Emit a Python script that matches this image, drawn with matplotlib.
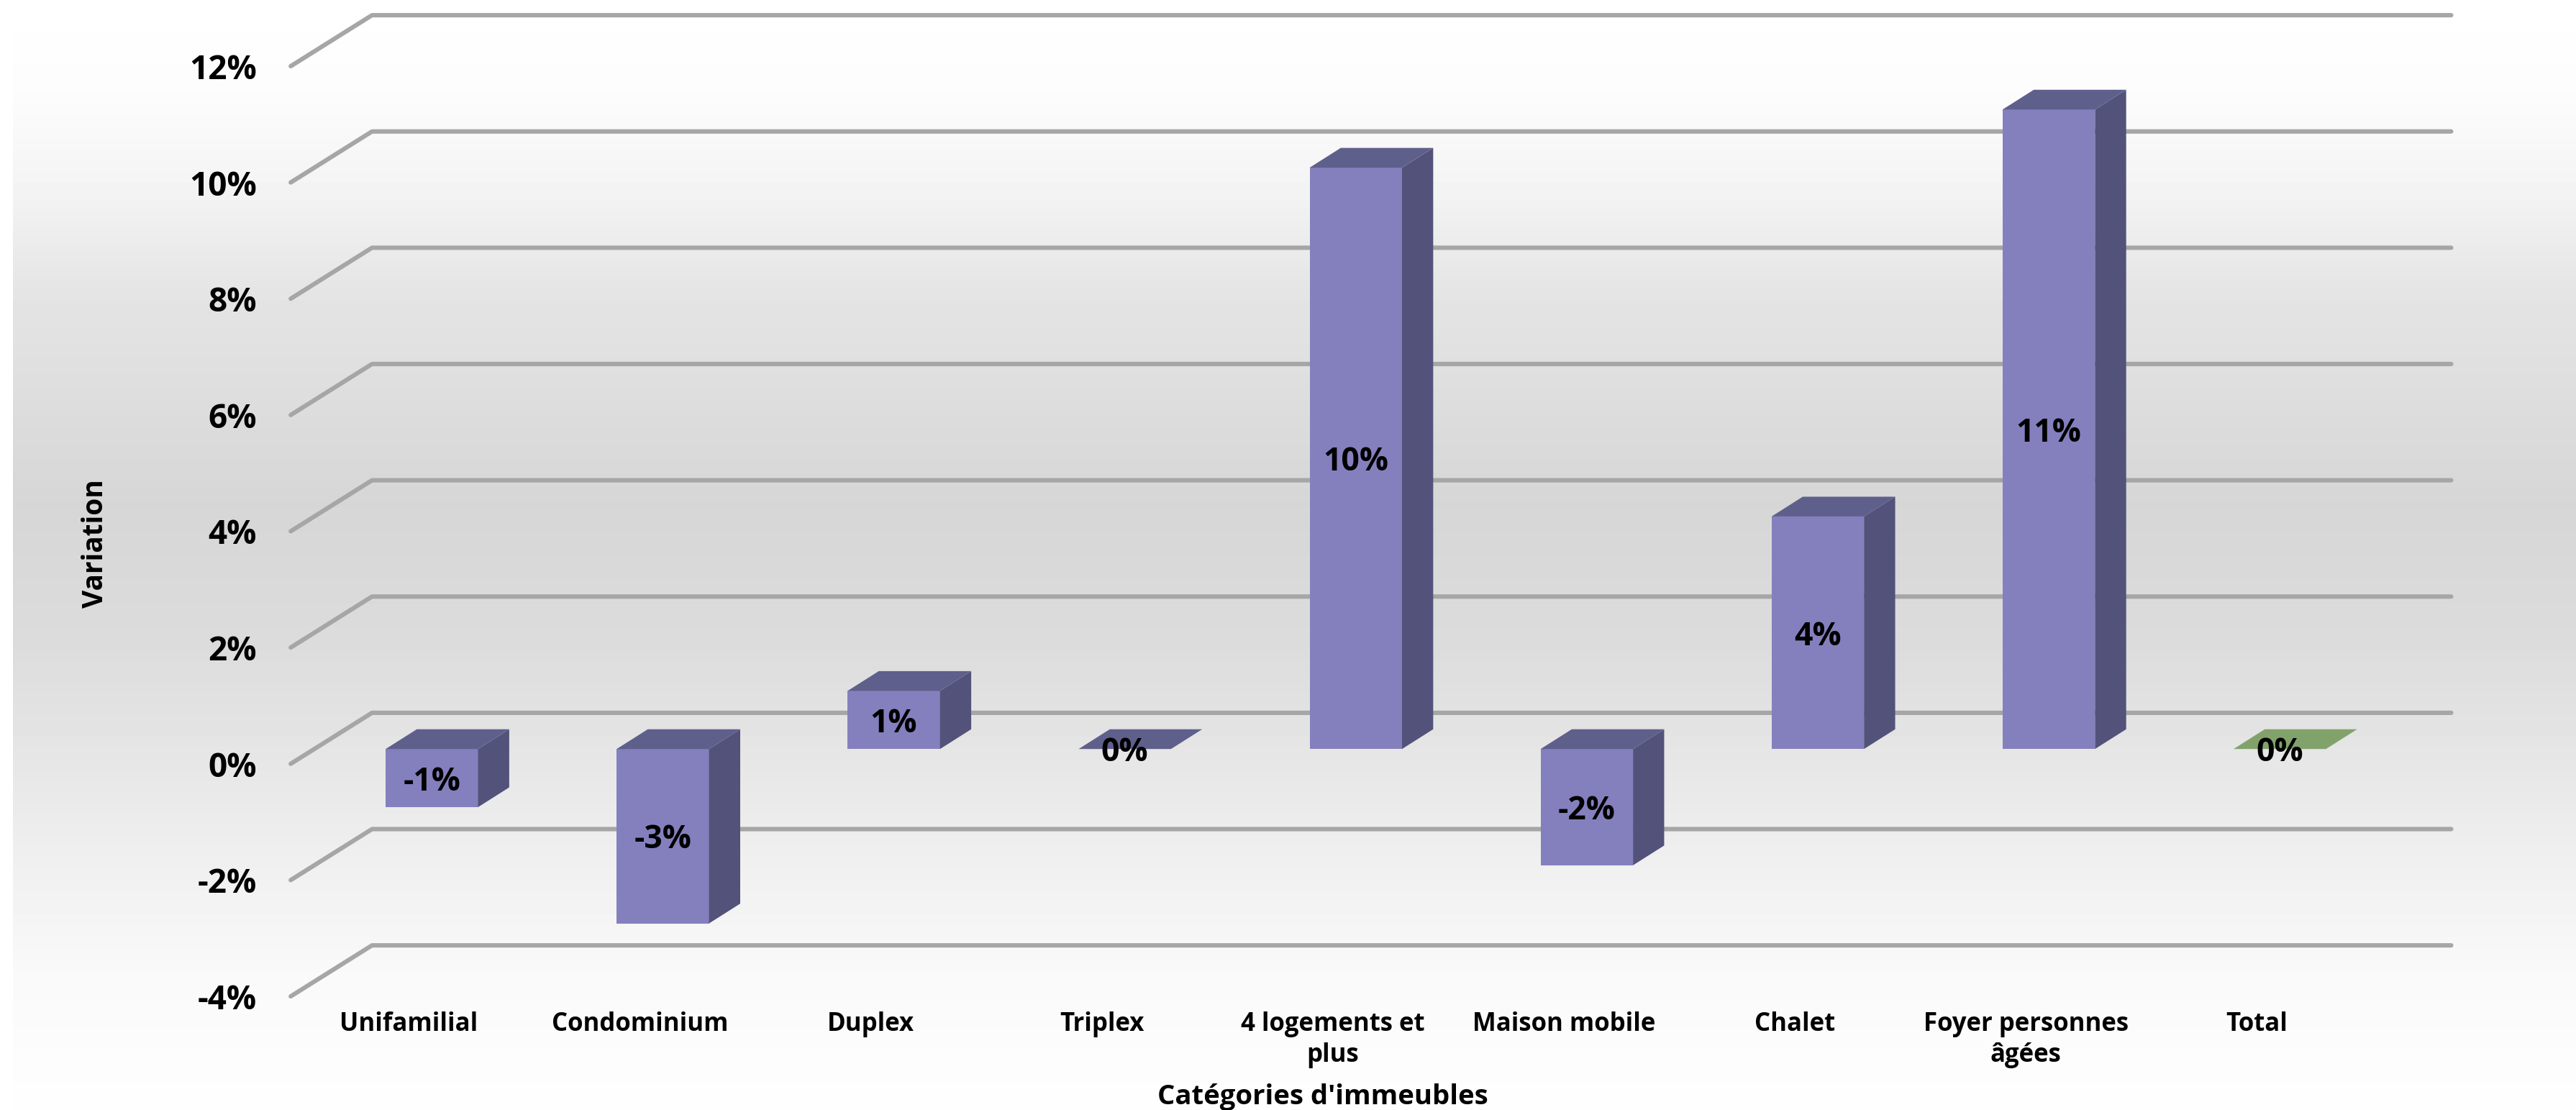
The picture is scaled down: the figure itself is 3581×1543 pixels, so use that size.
import numpy as np
import matplotlib
matplotlib.use("Agg")
import matplotlib.pyplot as plt
from matplotlib.patches import Polygon
from matplotlib.ticker import FuncFormatter

categories = ["Unifamilial", "Condominium", "Duplex", "Triplex", "4 logements et\nplus",
              "Maison mobile", "Chalet", "Foyer personnes\nâgées", "Total"]
variation = [-1, -3, 1, 0, 10, -2, 4, 11, 0]
y_ticks = [-4, -2, 0, 2, 4, 6, 8, 10, 12]

W, H = 3581, 1543
plt.rcParams["font.family"] = ["Open Sans", "DejaVu Sans"]

FRONT = "#8480BE"
TOP = "#5F5F8C"
SIDE = "#53527A"
TOTAL_FRONT = "#82A26B"
GRID = "#A6A6A6"

# Depth of the floor and walls, and of each bar, in data units
WALL_START = -0.512
WALL_DX, WALL_DY = 0.352, 0.877
BAR_SHIFT = 0.29
BAR_DX, BAR_DY = 0.135, 0.34
BAR_W = 0.40

fig = plt.figure(figsize=(W / 100, H / 100), dpi=100, facecolor="white")

# Vertical grey background band
bg = fig.add_axes([18 / W, 0, 1 - 18 / W, 1], zorder=0)
stops_y = [0, 130, 270, 400, 700, 900, 1190, 1350, 1543]
stops_v = [255, 252, 243, 229, 214, 220, 239, 249, 254]
shade = np.interp(np.arange(H), stops_y, stops_v)[:, None]
bg.imshow(shade, cmap="gray", vmin=0, vmax=255, aspect="auto")
bg.axis("off")

left, right = 408, 3298
top, bottom = 92, 1385
ax = fig.add_axes([left / W, 1 - bottom / H, (right - left) / W, (bottom - top) / H], zorder=1)
ax.patch.set_alpha(0)
ax.set_xlim(-0.5, 8.5)
ax.set_ylim(-4, 12)
for s in ax.spines.values():
    s.set_visible(False)

# Wall and floor lines: one leg in depth, then along the back wall
for v in y_ticks:
    ax.plot([WALL_START, WALL_START + WALL_DX, 8.5 + 0.341], [v, v + WALL_DY, v + WALL_DY],
            color=GRID, lw=4.4, clip_on=False, zorder=1, solid_capstyle="round")

# Bars as extruded boxes
x0 = BAR_SHIFT * 0.341
y0 = BAR_SHIFT * WALL_DY
for i, val in enumerate(variation):
    is_total = categories[i] == "Total"
    l = i + x0 - BAR_W / 2
    r = i + x0 + BAR_W / 2
    hi = y0 + max(val, 0)
    lo = y0 + min(val, 0)
    if val != 0:
        ax.bar(i + x0, val, BAR_W, bottom=y0, color=TOTAL_FRONT if is_total else FRONT,
               zorder=3, clip_on=False)
        ax.add_patch(Polygon([(r, lo), (r + BAR_DX, lo + BAR_DY), (r + BAR_DX, hi + BAR_DY), (r, hi)],
                             closed=True, fc=SIDE, ec="none", zorder=3, clip_on=False))
    ax.add_patch(Polygon([(l, hi), (r, hi), (r + BAR_DX, hi + BAR_DY), (l + BAR_DX, hi + BAR_DY)],
                         closed=True, fc=TOTAL_FRONT if is_total else TOP, ec="none",
                         zorder=3, clip_on=False))
    ax.annotate(f"{val}%", (i + x0, y0 + val / 2), xytext=(0, -4), textcoords="offset points",
                ha="center", va="center", fontsize=32, fontweight="bold", color="black", zorder=4)

ax.set_yticks(y_ticks)
ax.yaxis.set_major_formatter(FuncFormatter(lambda v, _: f"{v:.0f}%"))
ax.set_xticks(range(len(categories)))
ax.set_xticklabels(categories, fontsize=25, fontweight="bold", linespacing=1.25, va="top")
ax.tick_params(axis="y", length=0, pad=37, labelsize=33, labelcolor="black")
ax.tick_params(axis="x", length=0, pad=15)
for t in ax.get_yticklabels():
    t.set_fontweight("bold")

fig.text(805 / 1568, 1 - 668 / 676, "Catégories d'immeubles", ha="center", va="center",
         fontsize=27.5, fontweight="bold")
fig.text(58 / 1568, 1 - 331 / 676, "Variation", ha="center", va="center", rotation=90,
         fontsize=28, fontweight="bold")

fig.savefig("out.png", dpi=100)
